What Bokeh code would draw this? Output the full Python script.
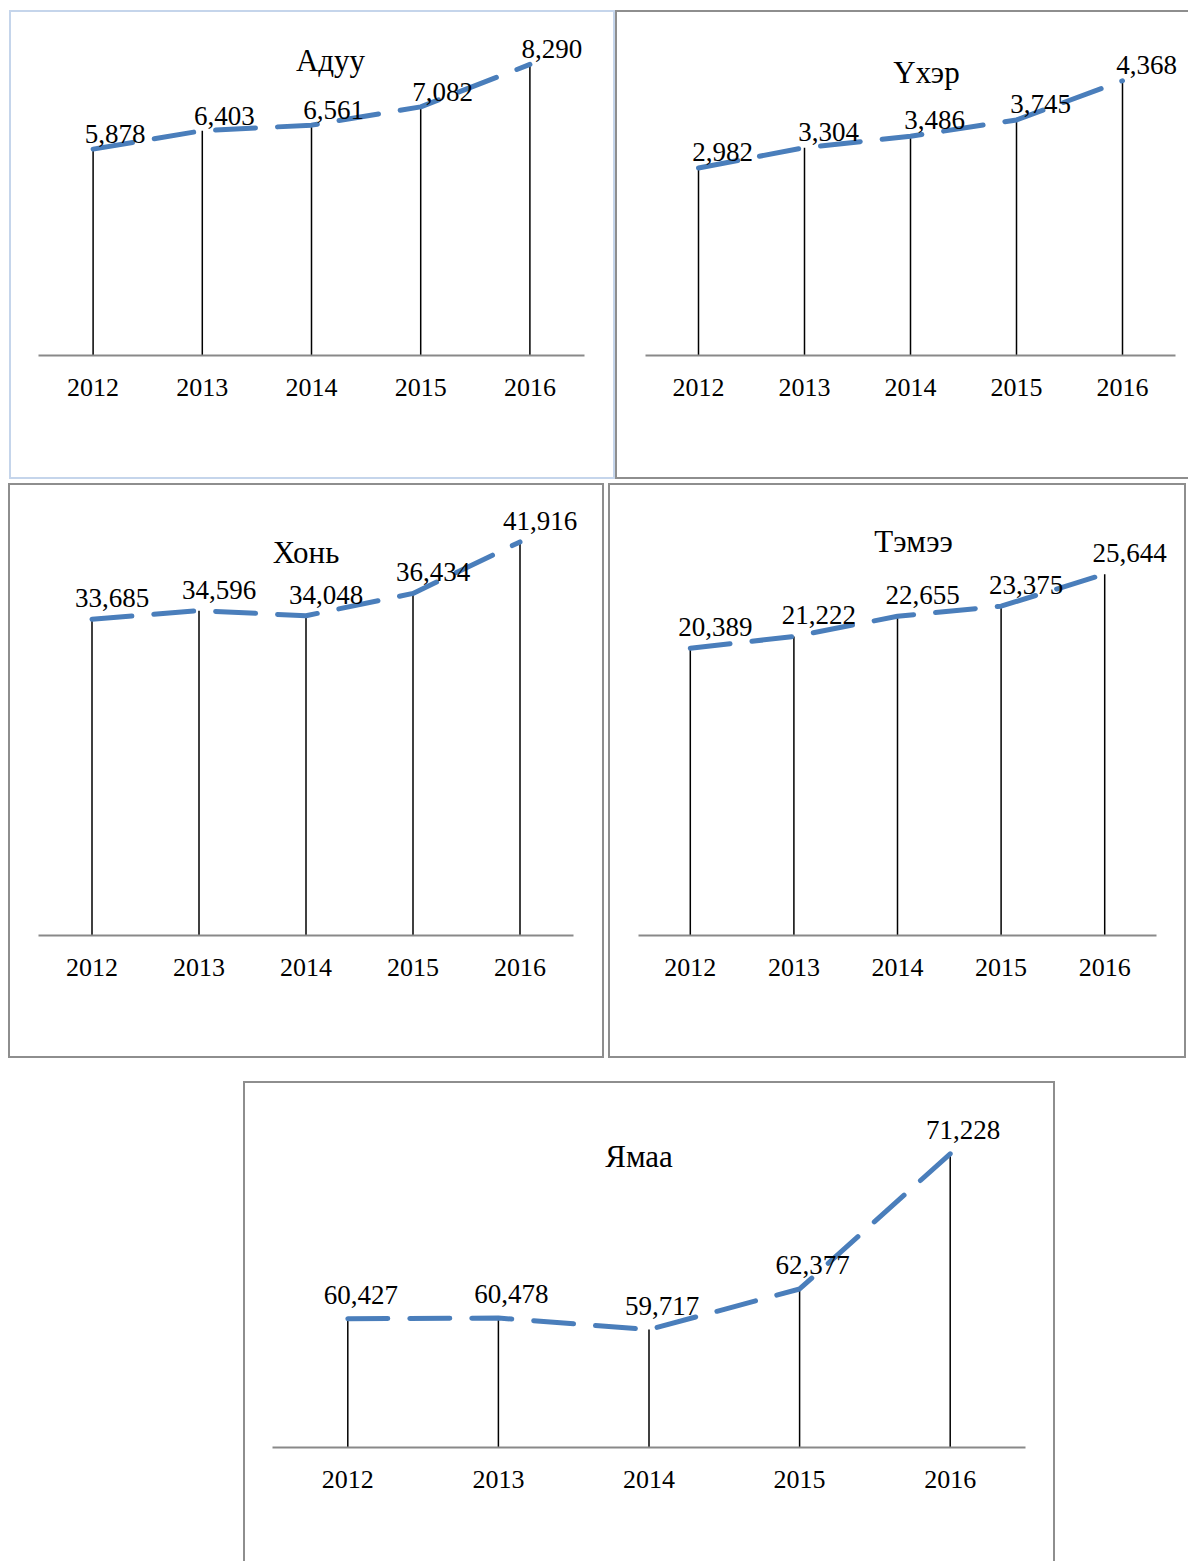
from bokeh.plotting import figure
from bokeh.models import FactorRange, Range1d, Label, Spacer
from bokeh.layouts import row, column
from bokeh.embed import file_html
from bokeh.resources import INLINE
from bokeh.core.properties import value

# ---- data ----
years = ["2012", "2013", "2014", "2015", "2016"]
horse = [5878, 6403, 6561, 7082, 8290]      # Адуу
cattle = [2982, 3304, 3486, 3745, 4368]     # Үхэр
sheep = [33685, 34596, 34048, 36434, 41916] # Хонь
camel = [20389, 21222, 22655, 23375, 25644] # Тэмээ
goat = [60427, 60478, 59717, 62377, 71228]  # Ямаа
titles = ["Адуу", "Үхэр", "Хонь", "Тэмээ", "Ямаа"]
axis_starts = [0, 0, 0, 0, 52000]

FONT = "Liberation Serif"
LINE_BLUE = "#4a7ebb"
GRAY_BORDER = "#8e8e8e"
BLUE_BORDER = "#c5d5eb"


def make_panel(title, vals, y_start, outer_w, outer_h, frame_l, frame_r, axis_y,
               px_per_unit, border_color, sides, lab_off, title_dx, title_y):
    bw = 2
    bl = bw if "l" in sides else 0
    br = bw if "r" in sides else 0
    bt = bw if "t" in sides else 0
    bb = bw if "b" in sides else 0
    cw = outer_w - bl - br
    ch = outer_h - bt - bb
    frame_h = axis_y - bt
    p = figure(x_range=FactorRange(factors=years),
               y_range=Range1d(y_start, y_start + frame_h / px_per_unit),
               width=cw, height=ch, y_axis_location=None,
               output_backend="svg", toolbar_location=None, tools="")
    # the canvas is sized to the bordered box, so the frame edges are set
    # relative to that size
    p.min_border = 0
    p.min_border_left = frame_l - bl
    p.min_border_right = outer_w + bl - frame_r
    p.min_border_top = 0
    p.min_border_bottom = outer_h + bt - axis_y
    p.outline_line_color = None
    p.background_fill_color = "white"
    p.border_fill_color = "white"
    p.grid.visible = False

    ax = p.xaxis[0]
    ax.axis_line_color = "#898989"
    ax.axis_line_width = 2
    ax.major_tick_line_color = None
    ax.minor_tick_line_color = None
    ax.major_label_text_font = FONT
    ax.major_label_text_font_size = "26px"
    ax.major_label_text_color = "black"
    ax.major_label_standoff = 17

    # drop lines
    p.segment(x0=years, y0=[p.y_range.start] * len(vals), x1=years, y1=vals,
              line_color="black", line_width=1.5)
    # dashed series line
    p.line(x=years, y=vals, line_color=LINE_BLUE, line_width=5,
           line_dash="40 22", line_cap="round", line_join="round")
    # data labels
    p.text(x=years, y=vals, text=[f"{v:,}" for v in vals],
           x_offset=lab_off[0], y_offset=lab_off[1],
           text_font=value(FONT), text_font_size="27px", text_color="black",
           text_align="center", text_baseline="middle", level="overlay")
    # chart title
    p.add_layout(Label(x=2.5, y=title_y, y_units="screen", x_offset=title_dx,
                       text=title, text_font=FONT, text_font_size="31px",
                       text_color="black", text_align="center",
                       text_baseline="middle"))

    styles = {"box-sizing": "content-box"}
    for s, name in zip("ltrb", ["left", "top", "right", "bottom"]):
        styles[f"border-{name}"] = f"{bw}px solid {border_color}" if s in sides else "none"
    p.styles = styles
    return p


p1 = make_panel(titles[0], horse, axis_starts[0], 606, 469, 29, 575, 345,
                0.03511, BLUE_BORDER, "ltrb", (22, -15), 19, 295)
p2 = make_panel(titles[1], cattle, axis_starts[1], 573, 469, 30, 560, 345,
                0.0629, GRAY_BORDER, "ltb", (24, -16), 16, 283)
p3 = make_panel(titles[2], sheep, axis_starts[2], 596, 575, 30, 565, 452,
                0.00939, GRAY_BORDER, "ltrb", (20, -21), 0, 383)
p4 = make_panel(titles[3], camel, axis_starts[3], 578, 575, 30, 548, 452,
                0.01409, GRAY_BORDER, "ltrb", (25, -21), 16, 394)
p5 = make_panel(titles[4], goat, axis_starts[4], 812, 480, 29, 782, 366,
                0.015276, GRAY_BORDER, "ltr", (13, -24), -10, 291)

# the page template has no body margin, so offsets are added with spacers
layout = column(
    Spacer(width=10, height=10),
    row(Spacer(width=9, height=10), p1, p2),
    Spacer(width=10, height=4),
    row(Spacer(width=8, height=10), p3, Spacer(width=4, height=10), p4),
    Spacer(width=10, height=23),
    row(Spacer(width=243, height=10), p5),
)

open("out.html", "w").write(file_html(layout, INLINE))
